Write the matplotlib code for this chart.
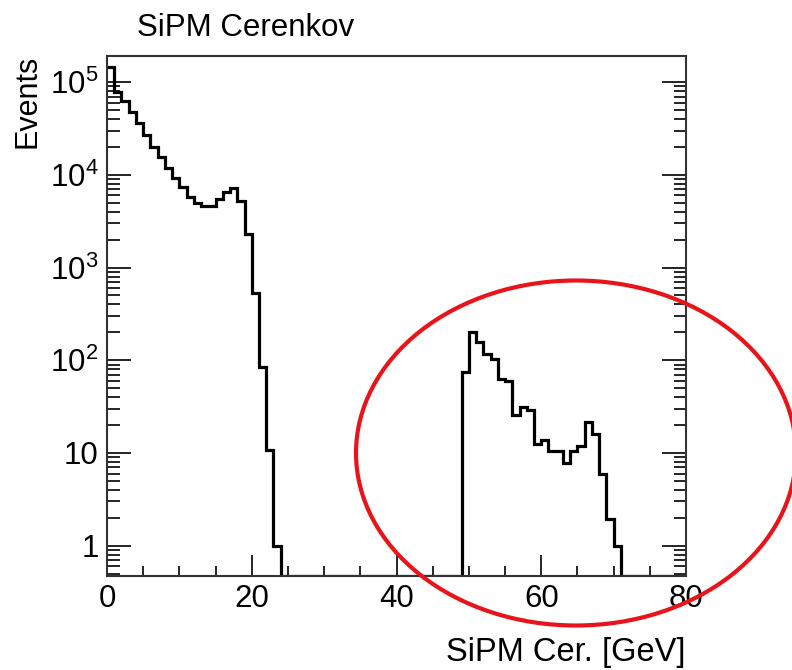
import numpy as np
import matplotlib
matplotlib.use("Agg")
import matplotlib.pyplot as plt
from matplotlib.patches import Ellipse
from matplotlib.ticker import LogLocator, FixedLocator, NullFormatter, FuncFormatter

# 1 GeV bins from 0 to 80
bin_edges = list(range(0, 81))
counts = [147000, 78000, 62900, 48200, 36100, 27000, 20200, 15500, 12000, 9210,
          7480, 5840, 4950, 4670, 4670, 5510, 6600, 7300, 5280, 2310,
          530, 85.5, 10.8, 1.0, 0, 0, 0, 0, 0, 0,
          0, 0, 0, 0, 0, 0, 0, 0, 0, 0,
          0, 0, 0, 0, 0, 0, 0, 0, 0, 75.5,
          201, 157, 117, 104, 63, 60, 25.8, 31.6, 29.2, 12.5,
          13.8, 10.6, 10.6, 7.76, 10.6, 11.9, 21.8, 16.1, 5.9, 1.93,
          1.0, 0, 0, 0, 0, 0, 0, 0, 0, 0]

title = "SiPM Cerenkov"
xlabel = "SiPM Cer. [GeV]"
ylabel = "Events"
ymin, ymax = 0.47, 1.92e5

plt.rcParams['font.family'] = ['Liberation Sans', 'DejaVu Sans']

fig = plt.figure(figsize=(7.92, 6.70), dpi=100)
ax = fig.add_axes([107/792, 1 - 576/670, (686-107)/792, (576-56)/670])

edges = np.array(bin_edges, dtype=float)
vals = np.array(counts, dtype=float)
draw_vals = np.where(vals > 0, vals, ymin)
ax.stairs(draw_vals, edges, color='black', linewidth=2.3, baseline=None)

ax.set_yscale('log')
ax.set_xlim(0, 80)
ax.set_ylim(ymin, ymax)

ax.xaxis.set_major_locator(FixedLocator([0, 20, 40, 60, 80]))
ax.xaxis.set_minor_locator(FixedLocator([5, 10, 15, 25, 30, 35, 45, 50, 55, 65, 70, 75]))
ax.yaxis.set_major_locator(LogLocator(base=10, numticks=10))
ax.yaxis.set_minor_locator(LogLocator(base=10, subs=np.arange(2, 10), numticks=20))
ax.yaxis.set_minor_formatter(NullFormatter())

def yfmt(v, pos):
    e = int(round(np.log10(v)))
    if e == 0:
        return "1"
    if e == 1:
        return "10"
    return r"$\mathregular{10^{%d}}$" % e
ax.yaxis.set_major_formatter(FuncFormatter(yfmt))

ax.tick_params(axis='both', which='both', direction='in', labelsize=22.5, colors='black')
ax.tick_params(axis='x', which='major', length=15, width=1.2, pad=6, top=False)
ax.tick_params(axis='x', which='minor', length=7, width=1.2, top=False)
ax.tick_params(axis='y', which='major', length=17, width=1.2, right=True, pad=6)
ax.tick_params(axis='y', which='minor', length=9, width=1.2, right=True)
for s in ax.spines.values():
    s.set_linewidth(1.5)
    s.set_color('#333333')

fig.text(137/792, 1 - 36/670, title, fontsize=22.5, ha='left', va='baseline')
fig.text(685/792, 1 - 661/670, xlabel, fontsize=23.5, ha='right', va='baseline')
fig.text(12/792, 1 - 55/670, ylabel, fontsize=22, ha='left', va='top', rotation=90)

ell = Ellipse((576/792, 1 - 453/670), width=440/792, height=345/670,
              transform=fig.transFigure, fill=False, edgecolor='#e8141a',
              linewidth=3, clip_on=False)
fig.add_artist(ell)

fig.savefig("out.png", dpi=100)
